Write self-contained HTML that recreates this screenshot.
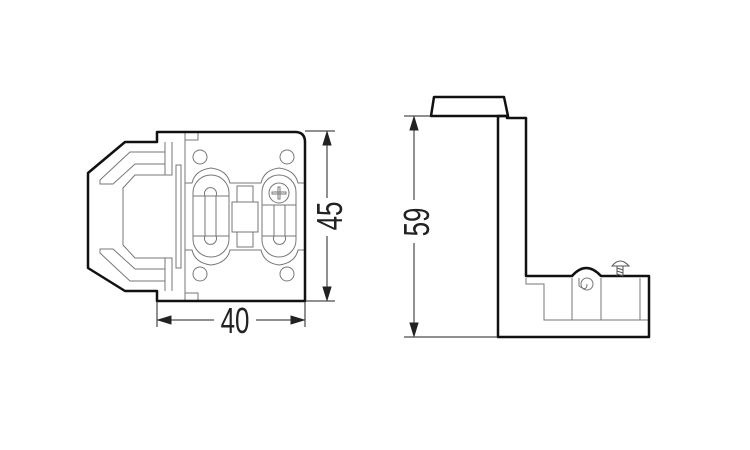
<!DOCTYPE html>
<html><head><meta charset="utf-8"><style>
html,body{margin:0;padding:0;background:#fff;}
svg{display:block;}
text{font-family:"Liberation Sans",Arial,sans-serif;font-size:36px;fill:#222;}
</style></head><body>
<svg width="750" height="450" viewBox="0 0 750 450" xmlns="http://www.w3.org/2000/svg">
<rect width="750" height="450" fill="#fff"/>
<!-- LEFT VIEW -->
<g fill="none" stroke="#777" stroke-width="1">
  <path d="M165 142 V175 H172 V142"/>
  <path d="M165 291 V258 H172 V291"/>
  <path d="M165 152 H130 L100 180 V184 H113 L135 164 H165"/>
  <path d="M165 281 H130 L100 253 V249 H113 L135 269 H165"/>
  <path d="M165 175 H135 L123 188 V245 L135 258 H165"/>
  <path d="M176 165 H181 V268 H176 Z"/>
  <path d="M185 132 V301"/>
  <path d="M185 140 H198 V132"/>
  <path d="M185 293 H198 V301"/>
  <circle cx="200" cy="157" r="7"/>
  <circle cx="287" cy="157" r="7"/>
  <circle cx="200" cy="274" r="7"/>
  <circle cx="287" cy="274" r="7"/>
  <path d="M185 183 H192 Q195 170 211 168 Q227 170 230 183 H261 Q264 170 279 168 Q295 170 298 183 H305"/>
  <path d="M185 250 H192 Q195 263 211 265 Q227 263 230 250 H261 Q264 263 279 265 Q295 263 298 250 H305"/>
  <rect x="193" y="175" width="36" height="82" rx="18"/>
  <rect x="262" y="175" width="34" height="82" rx="17"/>
  <path d="M205 196 V236 M216 196 V236"/>
  <path d="M205 196 A6 6 0 1 1 216 196"/>
  <path d="M205 236 A6 6 0 1 0 216 236"/>
  <path d="M274 205 V236 M285 205 V236"/>
  <path d="M274 236 A6 6 0 1 0 285 236"/>
  <path d="M193 196 H229 M193 236 H229 M262 205 H296 M262 236 H296"/>
  <circle cx="279" cy="193" r="10"/>
  <path d="M272 192 H286 V194 H272 Z M278 187 H280 V199 H278 Z"/>
  <rect x="232" y="202" width="26" height="30"/>
  <rect x="237" y="186" width="16" height="16"/>
  <rect x="237" y="232" width="16" height="15"/>
</g>
<path d="M157 132 H295 Q305 132 305 142 V301 H157 V291 H125 L88 268 V173 L125 142 H157 Z" fill="none" stroke="#111" stroke-width="2.5" stroke-linejoin="round"/>
<g stroke="#222" stroke-width="1" fill="#222">
  <line x1="305" y1="131" x2="335" y2="131"/>
  <line x1="305" y1="301" x2="335" y2="301"/>
  <line x1="327" y1="133" x2="327" y2="198"/>
  <line x1="327" y1="236" x2="327" y2="299"/>
  <path d="M327 132 L323 145 L331 145 Z"/>
  <path d="M327 300 L323 287 L331 287 Z"/>
  <line x1="157" y1="301" x2="157" y2="327"/>
  <line x1="305" y1="301" x2="305" y2="327"/>
  <line x1="159" y1="320" x2="214" y2="320"/>
  <line x1="256" y1="320" x2="303" y2="320"/>
  <path d="M158 320 L171 316 L171 324 Z"/>
  <path d="M304 320 L291 316 L291 324 Z"/>
</g>
<text transform="translate(235,333) scale(0.72,1)" text-anchor="middle">40</text>
<text transform="translate(342,216) rotate(-90) scale(0.72,1)" text-anchor="middle">45</text>

<!-- RIGHT VIEW -->
<g fill="none" stroke="#777" stroke-width="1">
  <path d="M526 278 V284 H544 V320 H649"/>
  <path d="M572 278 V320 M601 278 V320 M640 278 V320"/>
  <path d="M579 278 V286 Q587 292 587 284 M603 278"/>
  <circle cx="587" cy="284" r="6"/>
  <path d="M498 116 V337"/>
</g>
<g fill="none" stroke="#111" stroke-width="2.5" stroke-linejoin="round">
  <path d="M431 116 L434 97 H504 L508 116 Z"/>
  <path d="M498 116 H507 V118 H526 V276 H572 Q586 260 601 276 H649 V337 H498 Z"/>
</g>
<g stroke="#555" stroke-width="1" fill="none">
  <path d="M612 266 Q620 256 629 266 Z" fill="#fff"/>
  <path d="M617 266 V276 M623 266 V276 M617 268 L623 270 M617 271 L623 273 M617 274 L623 276"/>
</g>
<g stroke="#222" stroke-width="1" fill="#222">
  <line x1="404" y1="116" x2="431" y2="116"/>
  <line x1="404" y1="337" x2="498" y2="337"/>
  <line x1="414" y1="118" x2="414" y2="200"/>
  <line x1="414" y1="243" x2="414" y2="335"/>
  <path d="M414 117 L410 130 L418 130 Z"/>
  <path d="M414 336 L410 323 L418 323 Z"/>
</g>
<text transform="translate(429,222) rotate(-90) scale(0.72,1)" text-anchor="middle">59</text>
</svg>
</body></html>
